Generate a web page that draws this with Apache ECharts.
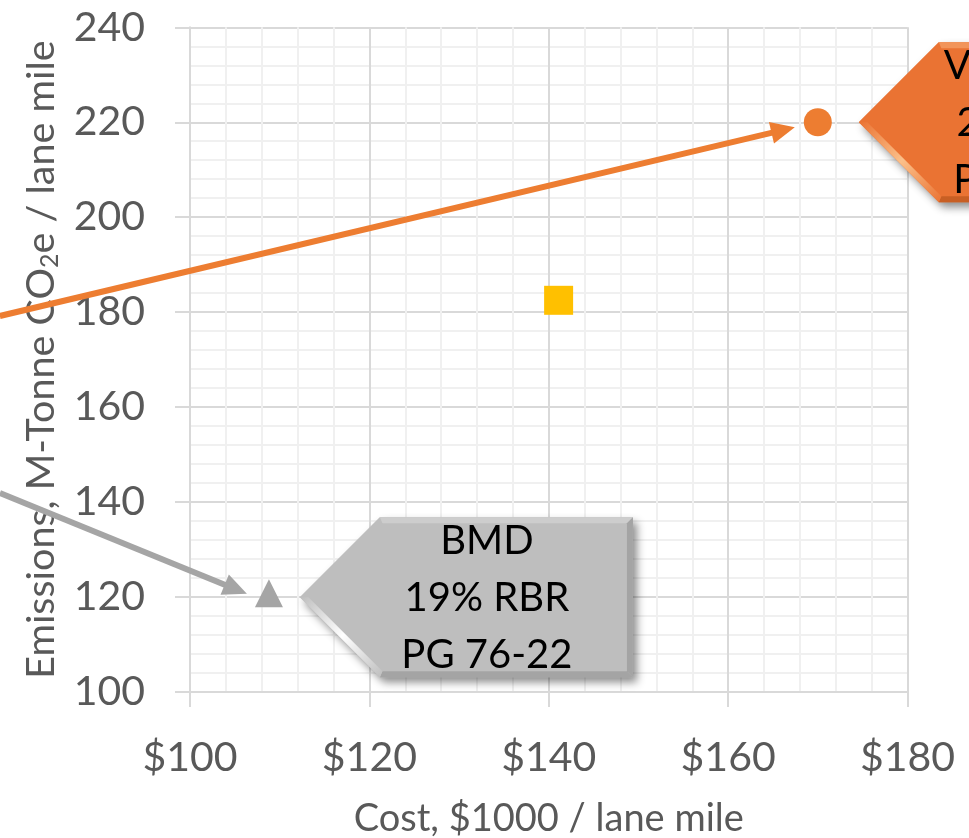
<!DOCTYPE html>
<html>
<head>
<meta charset="utf-8">
<script src="https://cdn.jsdelivr.net/npm/echarts@6/dist/echarts.min.js"></script>
<style>
  html, body { margin: 0; padding: 0; background: #ffffff; }
  #chart { width: 969px; height: 838px; }
</style>
</head>
<body>
<div id="chart"></div>
<script>
// Cost vs. embodied emissions per lane mile for three binder designs
const costs = [170, 141.1, 108.8];        // $1000 / lane mile
const emissions = [220, 182.5, 120.8];    // M-Tonne CO2e / lane mile
const seriesNames = ['Volumetric', 'Mix B', 'BMD'];
const seriesColors = ['#ED7D31', '#FFC000', '#A5A5A5'];
const seriesSymbols = ['circle', 'rect', 'triangle'];
const calloutTexts = ['Volumetric\n25% RBR\nPG 64-22', null, 'BMD\n19% RBR\nPG 76-22'];
const xTickValues = [100, 120, 140, 160, 180];
const yTickValues = [100, 120, 140, 160, 180, 200, 220, 240];

const FONT = 'Lato, "Open Sans", sans-serif';
const LABEL_GREY = '#595959';

// Callout and arrow styling, anchored to the point they describe
const annotations = [
  { index: 0, fill: '#EA7333', light: '#F2955A', dark: '#C85F24', glow: '#FBC08A',
    arrowColor: '#ED7D31', tip: [-23, 5], from: [78.8, 179.2], callout: [41, 0], bodyRight: 1200, textDx: 180 },
  { index: 2, fill: '#BEBEBE', light: '#CDCDCD', dark: '#A4A4A4', glow: '#FFFFFF',
    arrowColor: '#A5A5A5', tip: [-22, 0.5], from: [78.8, 141.9], callout: [31, 4], bodyRight: 333, textDx: 187 }
];

const chart = echarts.init(document.getElementById('chart'), null, { renderer: 'canvas' });

const axisLineStyle = { color: '#D9D9D9', width: 2 };

const series = costs.map((c, i) => ({
  name: seriesNames[i],
  type: 'scatter',
  symbol: seriesSymbols[i],
  symbolSize: i === 1 ? 29 : 28,
  itemStyle: { color: seriesColors[i], opacity: 1 },
  data: [[c, emissions[i]]],
  z: 3
}));

chart.setOption({
  animation: false,
  backgroundColor: '#ffffff',
  grid: { left: 190, right: 61.5, top: 27.3, bottom: 146, containLabel: false, outerBoundsMode: 'none' },
  xAxis: {
    type: 'value',
    min: xTickValues[0],
    max: xTickValues[xTickValues.length - 1],
    interval: xTickValues[1] - xTickValues[0],
    axisLine: { show: true, lineStyle: axisLineStyle },
    axisTick: { show: true, length: 15, lineStyle: axisLineStyle },
    axisLabel: { formatter: v => '$' + v, fontSize: 41, color: LABEL_GREY, fontFamily: FONT, margin: 45 },
    splitLine: { show: true, lineStyle: { color: '#D9D9D9', width: 2 } },
    minorTick: { show: false, splitNumber: 5 },
    minorSplitLine: { show: true, lineStyle: { color: '#F0F0F0', width: 2 } },
    name: 'Cost, $1000 / lane mile',
    nameLocation: 'middle',
    nameGap: 108,
    nameTextStyle: { fontSize: 38, color: LABEL_GREY, fontFamily: FONT }
  },
  yAxis: {
    type: 'value',
    min: yTickValues[0],
    max: yTickValues[yTickValues.length - 1],
    interval: yTickValues[1] - yTickValues[0],
    axisLine: { show: true, lineStyle: axisLineStyle },
    axisTick: { show: true, length: 15, lineStyle: axisLineStyle },
    axisLabel: { fontSize: 41, color: LABEL_GREY, fontFamily: FONT, margin: 45 },
    splitLine: { show: true, lineStyle: { color: '#D9D9D9', width: 2 } },
    minorTick: { show: false, splitNumber: 5 },
    minorSplitLine: { show: true, lineStyle: { color: '#F0F0F0', width: 2 } },
    name: 'Emissions, M-Tonne CO{sub|2}e / lane mile',
    nameLocation: 'middle',
    nameGap: 122,
    nameTextStyle: {
      fontSize: 39.5, color: LABEL_GREY, fontFamily: FONT,
      rich: { sub: { fontSize: 25, color: LABEL_GREY, fontFamily: FONT, verticalAlign: 'bottom', lineHeight: 42 } }
    }
  },
  series: series
});

// Arrows and callouts, positioned from the data points through the grid's scales
function buildGraphics() {
  const els = [];
  annotations.forEach(a => {
    const p = chart.convertToPixel({ gridIndex: 0 }, [costs[a.index], emissions[a.index]]);
    // arrow
    const tip = [p[0] + a.tip[0], p[1] + a.tip[1]];
    const start = chart.convertToPixel({ gridIndex: 0 }, a.from);
    const dx = tip[0] - start[0], dy = tip[1] - start[1];
    const len = Math.sqrt(dx * dx + dy * dy);
    const ux = dx / len, uy = dy / len;
    const headLen = 24, headHalf = 11;
    const base = [tip[0] - ux * headLen, tip[1] - uy * headLen];
    els.push({
      type: 'line', z: 10,
      shape: { x1: start[0], y1: start[1], x2: base[0] + ux * 2, y2: base[1] + uy * 2 },
      style: { stroke: a.arrowColor, lineWidth: 6 }
    });
    els.push({
      type: 'polygon', z: 10,
      shape: { points: [tip, [base[0] - uy * headHalf, base[1] + ux * headHalf], [base[0] + uy * headHalf, base[1] - ux * headHalf]] },
      style: { fill: a.arrowColor }
    });

    // callout: a left-pointing arrow box with a bevelled edge
    const tx = p[0] + a.callout[0], ty = p[1] + a.callout[1];
    const R = tx + a.bodyRight, h = 80, b = 6;
    const O = [[tx, ty], [tx + h, ty - h], [R, ty - h], [R, ty + h], [tx + h, ty + h]];
    const I = [[tx + b * 1.414, ty], [tx + h + b * 0.414, ty - h + b], [R - b, ty - h + b],
               [R - b, ty + h - b], [tx + h + b * 0.414, ty + h - b]];
    els.push({
      type: 'polygon', z: 20,
      shape: { points: O },
      style: { fill: a.fill, shadowBlur: 8, shadowOffsetX: 4, shadowOffsetY: 5, shadowColor: 'rgba(0,0,0,0.45)' }
    });
    const quad = (k, fill) => ({
      type: 'polygon', z: 21,
      shape: { points: [O[k], O[(k + 1) % 5], I[(k + 1) % 5], I[k]] },
      style: { fill: fill }
    });
    els.push(quad(0, a.fill));
    els.push(quad(1, a.light));
    els.push(quad(2, a.dark));
    els.push(quad(3, a.dark));
    els.push({
      type: 'polygon', z: 21,
      shape: { points: [O[4], O[0], I[0], I[4]] },
      style: {
        fill: new echarts.graphic.LinearGradient(0, 0, 1, 1, [
          { offset: 0, color: a.fill },
          { offset: 0.5, color: a.glow },
          { offset: 1, color: a.fill }
        ])
      }
    });
    els.push({
      type: 'text', z: 22,
      x: tx + a.textDx, y: ty + 1,
      style: {
        text: calloutTexts[a.index],
        fill: '#000000',
        font: '40px ' + FONT,
        lineHeight: 57,
        align: 'center',
        verticalAlign: 'middle'
      }
    });
  });
  return els;
}

chart.setOption({ graphic: { elements: buildGraphics() } });
</script>
</body>
</html>
